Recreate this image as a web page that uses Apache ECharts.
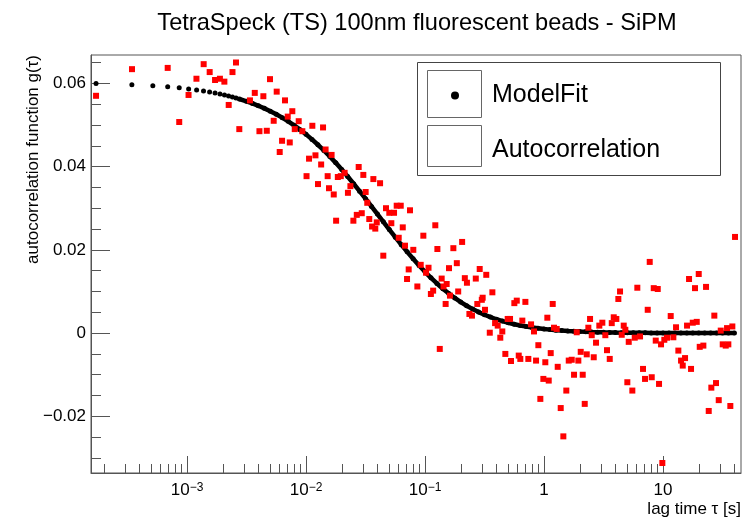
<!DOCTYPE html>
<html><head><meta charset="utf-8">
<script src="https://cdn.jsdelivr.net/npm/echarts@6/dist/echarts.min.js"></script>
<style>html,body{margin:0;padding:0;background:#fff}#c{width:749px;height:522px}</style>
</head><body><div id="c"></div>
<script>
// ---- axis ranges and tick labels ----
const lagRange = [1.56e-4, 45.2];
const gRange = [-0.0336, 0.0668];
const lagTicks = [0.001, 0.01, 0.1, 1, 10];
const lagTickLabels = ['10{s|\u22123}', '10{s|\u22122}', '10{s|\u22121}', '1', '10'];
const gTicks = [-0.02, 0, 0.02, 0.04, 0.06];
const gTickLabels = ['\u22120.02', '0', '0.02', '0.04', '0.06'];

// ---- ModelFit (lag time [s], g) ----
const fitLag = [1.72e-4,3.44e-4,5.16e-4,6.88e-4,8.60e-4,1.032e-3,1.204e-3,1.376e-3,1.548e-3,1.72e-3,1.892e-3,2.064e-3,2.236e-3,2.408e-3,2.58e-3,2.752e-3,
0.0031623,0.0035481,0.0039811,0.0044668,0.0050119,0.0056234,0.0063096,0.0070795,0.0079433,0.0089125,
0.01,0.01122,0.012589,0.014125,0.015849,0.017783,0.019953,0.022387,0.025119,0.028184,0.031623,0.035481,0.039811,0.044668,0.050119,0.056234,0.063096,0.070795,0.079433,0.089125,
0.1,0.1122,0.12589,0.14125,0.15849,0.17783,0.19953,0.22387,0.25119,0.28184,0.31623,0.35481,0.39811,0.44668,0.50119,0.56234,0.63096,0.70795,0.79433,0.89125,
1,1.122,1.2589,1.4125,1.5849,1.7783,1.9953,2.2387,2.5119,2.8184,3.1623,3.5481,3.9811,4.4668,5.0119,5.6234,6.3096,7.0795,7.9433,8.9125,
10,11.22,12.589,14.125,15.849,17.783,19.953,22.387,25.119,28.184,31.623,35.481,39.811];
const fitG = [0.05994,0.05968,0.05942,0.05916,0.05891,0.05865,0.05840,0.05815,0.05790,0.05766,0.05742,0.05717,0.05694,0.05670,0.05646,0.05623,
0.05568,0.05517,0.05460,0.05398,0.05330,0.05256,0.05175,0.05086,0.04990,0.04886,
0.04774,0.04653,0.04524,0.04387,0.04242,0.04089,0.03929,0.03761,0.03588,0.03410,0.03228,0.03044,0.02858,0.02672,0.02487,0.02304,0.02125,0.01952,0.01785,0.01624,
0.01472,0.01328,0.01193,0.01067,0.00951,0.00844,0.00746,0.00658,0.00577,0.00505,0.00441,0.00384,0.00333,0.00288,0.00248,0.00214,0.00184,0.00158,0.00135,0.00115,
0.000985,0.000839,0.000714,0.000607,0.000516,0.000438,0.000371,0.000314,0.000266,0.000225,0.000190,0.000161,0.000136,0.000115,0.0000968,0.0000817,0.0000689,0.0000581,0.0000490,0.0000413,
0.0000348,0.0000293,0.0000247,0.0000208,0.0000175,0.0000148,0.0000124,0.0000105,0.0000088,0.0000074,0.0000062,0.0000053,0.0000044];

// ---- Autocorrelation (lag time [s], g) ----
const dataLag = [1.72e-4,3.45e-4,6.88e-4,8.60e-4,1.03e-3,1.20e-3,1.38e-3,1.55e-3,1.72e-3,1.89e-3,2.06e-3,2.24e-3,2.41e-3,2.58e-3,2.75e-3,
3.38e-3,3.71e-3,4.06e-3,4.38e-3,4.68e-3,4.98e-3,5.35e-3,5.67e-3,6.01e-3,6.29e-3,6.66e-3,7.02e-3,7.30e-3,7.67e-3,8.04e-3,8.68e-3,9.31e-3,
0.0101,0.0106,0.0113,0.0120,0.0126,0.0134,0.0139,0.0146,0.0152,0.0156,0.0164,0.0171,0.0185,0.0196,0.0211,0.0225,0.0236,0.0267,0.0277,0.0294,0.0303,0.0317,0.0327,
0.0368,0.0419,0.0470,0.0578,0.0625,0.0501,0.0549,0.0748,0.0179,0.0250,0.0340,0.0393,0.0359,0.0382,0.0521,0.0650,0.122,0.0968,0.0601,0.0797,0.127,0.173,0.0679,0.0446,
0.0729,0.0920,0.107,0.159,0.185,0.0706,0.102,0.0862,0.138,0.152,0.143,0.117,0.112,0.162,0.149,0.190,
0.205,0.216,0.225,0.267,0.288,0.327,0.368,0.300,0.305,0.275,0.319,0.236,0.248,0.350,0.388,0.408,0.446,0.429,0.495,0.518,0.563,0.590,0.697,0.657,0.778,0.824,0.896,1.066,0.133,
0.473,0.528,0.613,0.632,0.738,0.857,1.025,0.987,1.138,0.931,1.095,
1.183,1.213,1.278,1.303,1.381,1.453,1.539,1.613,1.709,1.787,1.883,1.942,2.034,2.114,2.198,2.285,2.357,2.436,2.517,2.616,2.735,2.915,3.090,3.274,3.383,3.566,3.707,3.853,4.052,4.212,4.352,4.497,4.674,4.822,5.012,5.150,5.521,5.784,6.081,6.409,6.790,7.058,7.436,7.729,8.035,8.353,8.683,9.027,9.255,9.620,9.865,
10.25,10.80,11.60,12.21,12.86,13.45,14.17,14.64,15.31,15.91,16.54,17.19,17.77,19.20,18.57,19.95,20.34,21.82,22.98,24.21,25.46,26.98,27.88,29.38,30.54,31.74,33.64,35.38,34.50,38.23,36.77,40.27];
const dataG = [0.0570,0.0634,0.0637,0.0507,0.0572,0.0611,0.0646,0.0627,0.0608,0.0611,0.0604,0.0548,0.0627,0.0650,0.0490,
0.0559,0.0577,0.0485,0.0569,0.0486,0.0610,0.0510,0.0580,0.0435,0.0462,0.0559,0.0520,0.0458,0.0533,0.0490,0.0509,0.0485,
0.0377,0.0419,0.0498,0.0427,0.0358,0.0405,0.0494,0.0441,0.0377,0.0348,0.0428,0.0333,0.0375,0.0377,0.0385,0.0337,0.0353,0.0284,0.0399,0.0288,0.0380,0.0339,0.0313,
0.0370,0.0360,0.0300,0.0306,0.0306,0.0289,0.0289,0.0295,0.0270,0.0270,0.0274,0.0266,0.0256,0.0251,0.0264,0.0254,0.0259,0.0234,0.0229,0.0200,0.0202,0.0204,0.0210,0.0186,
0.0153,0.0164,0.0157,0.0156,0.0168,0.0130,0.0145,0.0112,0.0131,0.0118,0.0112,0.0102,0.0094,0.0090,0.0070,0.0100,
0.0219,0.0132,0.0121,0.0131,0.0154,0.0140,0.0098,0.0080,0.0085,0.0070,0.0056,0.0046,0.0042,0.0001,0.0024,0.0018,0.0004,-0.0011,0.0034,0.0034,0.0072,0.0078,0.0075,0.0030,0.0021,0.0004,-0.0029,0.0037,-0.0038,
-0.0050,-0.0067,-0.0054,-0.0062,-0.0062,-0.0066,-0.0070,-0.0110,-0.0048,-0.0158,-0.0114,
0.0070,0.0013,0.0010,-0.0081,-0.0180,-0.0248,-0.0138,-0.0066,-0.0064,-0.0100,0.0002,-0.0066,-0.0045,-0.0100,-0.0170,-0.0051,0.0013,0.0034,-0.0005,-0.0058,-0.0023,0.0018,0.0025,-0.0005,-0.0041,-0.0062,0.0024,0.0038,0.0034,0.0082,0.0100,-0.0004,0.0018,0.0008,-0.0118,-0.0021,-0.0138,-0.0011,0.0109,-0.0008,-0.0086,-0.0110,0.0056,0.0171,-0.0106,0.0108,-0.0018,0.0106,-0.0122,-0.0027,-0.0312,
-0.0016,-0.0011,0.0041,-0.0010,0.0014,-0.0042,-0.0066,-0.0078,-0.0060,0.0018,0.0130,-0.0086,0.0025,0.0027,0.0108,0.0142,-0.0033,-0.0030,0.0111,-0.0187,-0.0131,0.0042,-0.0120,-0.0161,0.0006,-0.0027,-0.0030,-0.0027,0.0012,0.0016,-0.0175,0.0231];

// ---- build options ----
const FONT = '"Liberation Sans", Arial, Helvetica, sans-serif';
const lg = Math.log10;
const xMin = lg(lagRange[0]), xMax = lg(lagRange[1]);
const majorX = lagTicks.map(lg);
const minorX = [];
for (let d = -4; d <= 1; d++) for (let k = 2; k <= 9; k++) {
  const v = lg(k) + d; if (v > xMin && v < xMax) minorX.push(v);
}
const minorY = [];
for (let i = -6; i <= 13; i++) { if (i % 4 !== 0) minorY.push(+(i * 0.005).toFixed(3)); }

const fitPts = fitLag.map((t, i) => [lg(t), fitG[i]]);
const dataPts = dataLag.map((t, i) => [lg(t), dataG[i]]);
const DENSE_FROM = 15;

function lookup(arr, labels, v) {
  for (let i = 0; i < arr.length; i++) if (Math.abs(arr[i] - v) < 1e-6) return labels[i];
  return '';
}
const tickCol = '#555';
const xBase = {
  type: 'value', min: xMin, max: xMax, position: 'bottom',
  axisLine: { show: true, onZero: false, lineStyle: { color: tickCol, width: 1 } },
  splitLine: { show: false }
};
const yBase = {
  type: 'value', min: gRange[0], max: gRange[1], position: 'left',
  axisLine: { show: true, onZero: false, lineStyle: { color: tickCol, width: 1 } },
  splitLine: { show: false }
};

const option = {
  animation: false,
  backgroundColor: '#fff',
  textStyle: { fontFamily: FONT, color: '#000' },
  title: {
    text: 'TetraSpeck (TS) 100nm fluorescent beads - SiPM',
    left: 412, top: 6, textAlign: 'center',
    textStyle: { fontFamily: FONT, fontSize: 23.6, fontWeight: 'normal', color: '#000' }
  },
  grid: { left: 91, right: 8, top: 55, bottom: 49, show: true, borderColor: tickCol, borderWidth: 1, outerBoundsMode: 'none' },
  legend: {
    orient: 'vertical', left: 451, top: 83, padding: 0,
    itemWidth: 64, itemHeight: 8, itemGap: 30,
    textStyle: { fontFamily: FONT, fontSize: 25, color: '#000' },
    selectedMode: false,
    data: [
      { name: 'ModelFit', icon: 'circle' },
      { name: 'Autocorrelation', icon: 'circle', itemStyle: { opacity: 0 } }
    ]
  },
  graphic: [
    { type: 'rect', shape: { x: 417.5, y: 62.5, width: 303, height: 113 }, style: { fill: 'none', stroke: '#444', lineWidth: 1 }, z: 100 },
    { type: 'rect', shape: { x: 427.5, y: 70.5, width: 54, height: 47 }, style: { fill: 'none', stroke: '#666', lineWidth: 1 }, z: 100 },
    { type: 'rect', shape: { x: 427.5, y: 125.5, width: 54, height: 41 }, style: { fill: 'none', stroke: '#666', lineWidth: 1 }, z: 100 }
  ],
  xAxis: [
    Object.assign({}, xBase, {
      name: 'lag time \u03c4 [s]', nameLocation: 'end', nameGap: 0, nameMoveOverlap: false,
      nameTextStyle: { fontFamily: FONT, fontSize: 17, color: '#000', align: 'right', verticalAlign: 'top', padding: [28, 0, 0, 0] },
      axisTick: { show: true, inside: true, length: 17, customValues: majorX, lineStyle: { color: tickCol } },
      axisLabel: {
        show: true, customValues: majorX, margin: 9, fontFamily: FONT, fontSize: 17, color: '#000',
        formatter: v => lookup(majorX, lagTickLabels, v),
        rich: { s: { fontFamily: FONT, fontSize: 12, verticalAlign: 'top', color: '#000' } }
      }
    }),
    Object.assign({}, xBase, {
      axisLine: { show: false, onZero: false },
      axisTick: { show: true, inside: true, length: 9, customValues: minorX, lineStyle: { color: tickCol } },
      axisLabel: { show: false }
    })
  ],
  yAxis: [
    Object.assign({}, yBase, {
      name: 'autocorrelation function g(\u03c4)', nameLocation: 'end', nameGap: 0, nameRotate: 90, nameMoveOverlap: false,
      nameTextStyle: { fontFamily: FONT, fontSize: 17, color: '#000', align: 'right', verticalAlign: 'bottom', padding: [0, 0, 49, 0] },
      axisTick: { show: true, inside: true, length: 19, customValues: gTicks, lineStyle: { color: tickCol } },
      axisLabel: {
        show: true, customValues: gTicks, margin: 5, fontFamily: FONT, fontSize: 17, color: '#000',
        formatter: v => lookup(gTicks, gTickLabels, v)
      }
    }),
    Object.assign({}, yBase, {
      axisLine: { show: false, onZero: false },
      axisTick: { show: true, inside: true, length: 10, customValues: minorY, lineStyle: { color: tickCol } },
      axisLabel: { show: false }
    })
  ],
  series: [
    {
      name: 'ModelFitCurve', type: 'line', data: fitPts.slice(DENSE_FROM), showSymbol: false,
      lineStyle: { color: '#000', width: 4.5, opacity: 1 }, itemStyle: { color: '#000' }, z: 2, silent: true
    },
    {
      name: 'ModelFit', type: 'scatter', data: fitPts, symbol: 'circle', symbolSize: 5,
      itemStyle: { color: '#000', opacity: 1 }, z: 3
    },
    {
      name: 'Autocorrelation', type: 'scatter', data: dataPts, symbol: 'rect', symbolSize: 6,
      itemStyle: { color: '#ff0000', opacity: 1 }, z: 4
    }
  ]
};
const chart = echarts.init(document.getElementById('c'), null, { renderer: 'canvas' });
chart.setOption(option);
</script>
</body></html>
